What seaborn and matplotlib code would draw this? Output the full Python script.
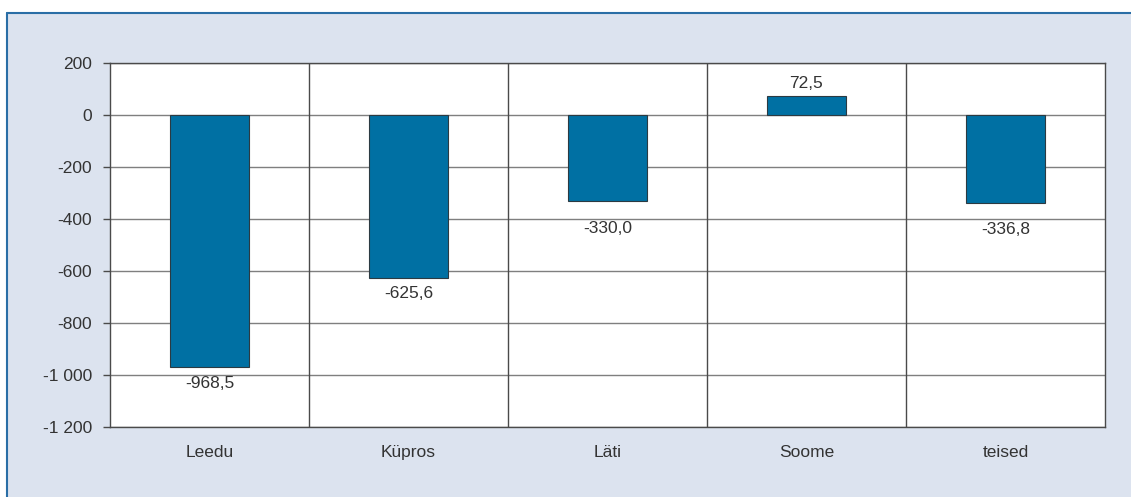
import matplotlib
matplotlib.use("Agg")
import matplotlib.pyplot as plt
import seaborn as sns
import pandas as pd
from matplotlib.patches import Rectangle
from matplotlib.lines import Line2D

# Data
countries = ["Leedu", "Küpros", "Läti", "Soome", "teised"]
values = [-968.5, -625.6, -330.0, 72.5, -336.8]
yticks = [200, 0, -200, -400, -600, -800, -1000, -1200]

# gap between bar end and its label (pixels), as placed in the original
label_gap = [9, 8, 20, 5, 19]

df = pd.DataFrame({"country": countries, "value": values})

sns.set_style("white")
plt.rcParams['font.family'] = ['Liberation Sans', 'DejaVu Sans']

fig = plt.figure(figsize=(11.31, 4.97), dpi=100)
fig.patch.set_facecolor("white")

# Background panel with blue border on top and left
W, H = 1131, 497
px, py = 7 / W, 1 - 13 / H
fig.patches.append(Rectangle((px, 0), 1 - px, py, transform=fig.transFigure,
                             facecolor="#dce3ef", edgecolor="none", zorder=-10))
fig.lines.append(Line2D([px, 1], [py, py], transform=fig.transFigure, color="#2a6ea6", lw=1.5, zorder=-5))
fig.lines.append(Line2D([px, px], [0, py], transform=fig.transFigure, color="#2a6ea6", lw=1.5, zorder=-5))

ax = fig.add_axes([110 / W, 1 - 427 / H, (1105 - 110) / W, (427 - 63) / H])
ax.set_zorder(1)
ax.set_facecolor("white")

sns.barplot(data=df, x="country", y="value", color="#0070a3", saturation=1,
            width=0.4, edgecolor="#2b3a42", linewidth=0.8, ax=ax, zorder=3)

ax.set_ylim(-1200, 200)
ax.set_xlim(-0.5, len(countries) - 0.5)
ax.set_yticks(yticks)
ax.set_yticklabels([f"{v:,}".replace(",", " ") for v in yticks])

# Grid lines
for v in yticks:
    ax.axhline(v, color="#7f7f7f", lw=1, zorder=1)
for i in range(1, len(countries)):
    ax.axvline(i - 0.5, color="#4a4a4a", lw=1, zorder=1)

for s in ["left", "right", "top", "bottom"]:
    ax.spines[s].set_color("#4a4a4a")
    ax.spines[s].set_linewidth(1)

fs = 12.5
ax.tick_params(axis="y", length=5, width=1, color="#4a4a4a", labelsize=fs, labelcolor="#333333", pad=8, left=True)
ax.tick_params(axis="x", length=0, labelsize=fs, labelcolor="#333333", pad=13)
ax.set_xlabel("")
ax.set_ylabel("")

# Value labels
for i, v in enumerate(values):
    txt = f"{v:.1f}".replace(".", ",")
    if v >= 0:
        ax.annotate(txt, (i, v), xytext=(0, label_gap[i]), textcoords="offset pixels",
                    ha="center", va="bottom", fontsize=fs, color="#333333")
    else:
        ax.annotate(txt, (i, v), xytext=(0, -label_gap[i]), textcoords="offset pixels",
                    ha="center", va="top", fontsize=fs, color="#333333")

plt.savefig("out.png", dpi=100, facecolor=fig.get_facecolor())
